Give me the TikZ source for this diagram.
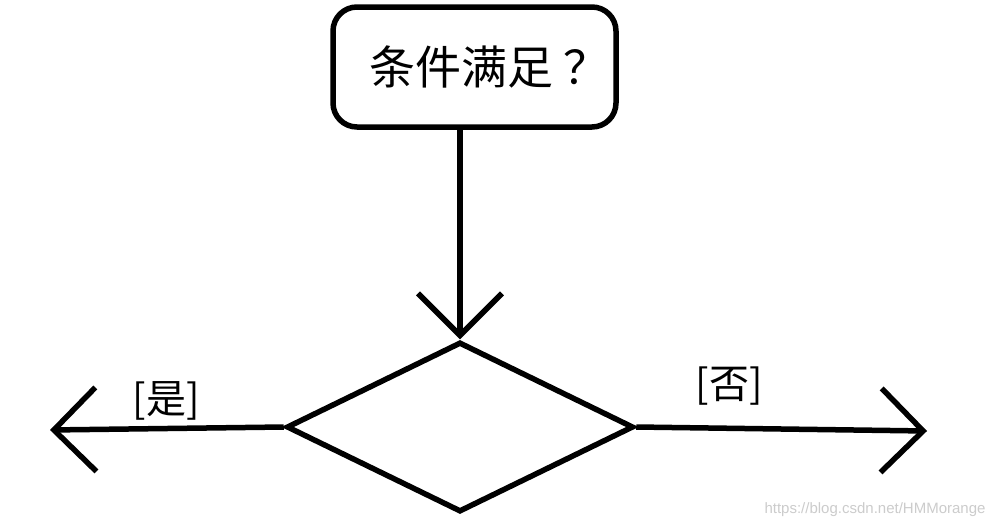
\documentclass[tikz,border=0pt]{standalone}
\usepackage{fontspec}
\newfontfamily\cjk{Noto Sans CJK SC}
\setsansfont{Liberation Sans}
\usetikzlibrary{shapes.geometric,arrows.meta}

\begin{document}
\begin{tikzpicture}[x=1pt,y=-1pt,line width=5.5pt,
  barb/.style={-{Straight Barb[length=42pt,width=84pt]}},
  condbox/.style={draw,rounded corners=24pt,minimum width=283pt,minimum height=120pt,inner sep=0pt,
    font=\cjk\fontsize{46}{50}\selectfont},
  choice/.style={draw,diamond,aspect=2.04,minimum width=347pt,minimum height=170pt,inner sep=0pt},
  lbl/.style={font=\cjk\fontsize{40}{44}\selectfont},
  urltext/.style={text=black!20,font=\sffamily\fontsize{15}{17}\selectfont}]
  \fill[white] (0,0) rectangle (1001,528);
  \useasboundingbox (0,0) rectangle (1001,528);
  % boxes
  \node[condbox] (cond) at (474.5,67) {\hspace*{30pt}条件满足\kern10pt？};
  \node[choice] (fork) at (460,427) {};
  % free ends
  \coordinate (yes) at (50,430);
  \coordinate (no) at (927,431);
  % connectors
  \draw[barb] (fork.north |- cond.south) -- (fork.north);
  \draw[barb] (fork.west) -- (yes);
  \draw[barb] (fork.east) -- (no);
  % labels
  \node[lbl] (yeslbl) at (166,401) {[是]};
  \node[lbl] (nolbl) at (729,386) {[否]};
  \node[urltext] (url) at (875,510) {https://blog.csdn.net/HMMorange};
\end{tikzpicture}
\end{document}
